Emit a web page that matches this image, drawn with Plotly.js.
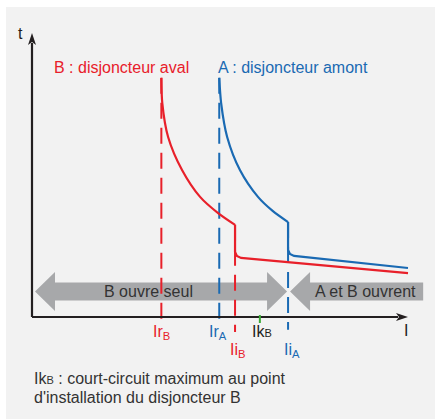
<!DOCTYPE html>
<html><head><meta charset="utf-8">
<script src="https://cdn.plot.ly/plotly-3.0.1.min.js"></script>
<style>html,body{margin:0;padding:0;background:#fff}</style>
</head><body><div id="chart" style="width:435px;height:419px"></div>
<script>
// ---- data (current I and time t, arbitrary units 0..100) ----
const thresholdLabels = ['Ir<sub>B</sub>', 'Ir<sub>A</sub>', 'Ii<sub>B</sub>', 'Ik<span style="font-size:11px">B</span>', 'Ii<sub>A</sub>'];
const thresholdValues = [34.4, 49.8, 54.0, 60.6, 68.1];

// breaker B (downstream): inverse-time part then instantaneous part
const curveB_I_long = [34.4, 34.65, 36.2, 39.9, 44.7, 49.5, 54.0];
const curveB_t_long = [85.4, 76.4, 64.3, 52.5, 42.9, 37.1, 32.9];
const curveB_I_inst = [54.0, 54.0, 54.5, 55.6, 100];
const curveB_t_inst = [32.9, 23.2, 21.8, 21.1, 15.7];
// breaker A (upstream)
const curveA_I_long = [49.8, 50.3, 51.9, 55.3, 60.1, 64.0, 68.1];
const curveA_t_long = [85.4, 76.4, 64.3, 52.5, 42.9, 37.9, 33.9];
const curveA_I_inst = [68.1, 68.1, 68.6, 69.7, 100];
const curveA_t_inst = [33.9, 23.9, 22.5, 21.8, 17.5];

const zoneLabels = ['B ouvre seul', 'A et B ouvrent'];
const zoneStart = [0, 68.1];
const zoneEnd = [68.1, 104.3];

const titleB = 'B : disjoncteur aval';
const titleA = 'A : disjoncteur amont';
const noteLines = ['Ik<span style="font-size:11px">B</span> : court-circuit maximum au point', "d'installation du disjoncteur B"];

// ---- style ----
const RED = '#e8202a', BLUE = '#1a6ab3', GREEN = '#3aaa35', GREY = '#a7a8aa', AX = '#231f20', TXT = '#333333';
const FONT = 'Liberation Sans, Arial, Helvetica, sans-serif';
const W = 435, H = 419;
const xr = [-8.511, 107.18], yr = [-36.43, 113.21];
const kx = W / (xr[1] - xr[0]), ky = H / (yr[1] - yr[0]); // px per unit
const px2dx = p => p / kx, px2dy = p => p / ky;

const traces = [];
function line(x, y, color, width, dash, shape) {
  traces.push({x, y, mode: 'lines', type: 'scatter', hoverinfo: 'skip',
    line: {color, width, dash: dash || 'solid', shape: shape || 'linear', smoothing: 0.8}});
}
function poly(x, y, color) {
  traces.push({x, y, mode: 'lines', type: 'scatter', fill: 'toself', fillcolor: color,
    line: {width: 0, color}, hoverinfo: 'skip'});
}

// zone arrows
const zc = px2dy(317 - 291.5);
const hl = px2dx(20), hh = px2dy(19.5), sh = px2dy(9);
zoneLabels.forEach((lab, i) => {
  const x0 = zoneStart[i] + px2dx(i === 0 ? 3 : 2);
  const x3 = zoneEnd[i] - px2dx(1);
  const x1 = x0 + hl, x2 = x3 - hl;
  if (i === 0) {
    poly([x0, x1, x1, x2, x2, x3, x2, x2, x1, x1, x0],
         [zc, zc + hh, zc + sh, zc + sh, zc + hh, zc, zc - hh, zc - sh, zc - sh, zc - hh, zc], GREY);
  } else {
    poly([x0, x1, x1, x3, x3, x1, x1, x0],
         [zc, zc + hh, zc + sh, zc + sh, zc - sh, zc - sh, zc - hh, zc], GREY);
  }
});

// dashed threshold lines
const dashTop = [curveB_t_long[0], curveA_t_long[0], curveB_t_long[6], null, curveA_t_long[6]];
const dashBot = [-1.0, -2.1, -5.4, null, -4.6];
const dashCol = [RED, BLUE, RED, GREEN, BLUE];
thresholdValues.forEach((v, i) => {
  if (dashTop[i] === null) return;
  line([v, v], [dashTop[i], dashBot[i]], dashCol[i], 2, '16px,9px');
});

// curves
line(curveB_I_long, curveB_t_long, RED, 2.2, 'solid', 'spline');
line(curveB_I_inst, curveB_t_inst, RED, 2.2);
line(curveA_I_long, curveA_t_long, BLUE, 2.2, 'solid', 'spline');
line(curveA_I_inst, curveA_t_inst, BLUE, 2.2);

// axes with arrow heads
const xEnd = 100, yEnd = px2dy(317 - 33);
const ahl = 12, ahw = 4;
line([0, xEnd - px2dx(ahl - 2)], [0, 0], AX, 2.2);
line([0, 0], [0, yEnd - px2dy(ahl - 2)], AX, 2.2);
poly([xEnd, xEnd - px2dx(ahl), xEnd - px2dx(ahl - 3), xEnd - px2dx(ahl), xEnd],
     [0, px2dy(ahw), 0, -px2dy(ahw), 0], AX);
poly([0, px2dx(ahw), 0, -px2dx(ahw), 0],
     [yEnd, yEnd - px2dy(ahl), yEnd - px2dy(ahl - 3), yEnd - px2dy(ahl), yEnd], AX);

// green Ik tick
line([thresholdValues[3], thresholdValues[3]], [px2dy(2), -px2dy(6)], GREEN, 2);

// ---- annotations ----
const ann = [];
function txt(x, y, text, color, opts) {
  ann.push(Object.assign({x, y, xref: 'x', yref: 'y', text, showarrow: false,
    font: {family: FONT, size: 16, color}, xanchor: 'center', yanchor: 'middle'}, opts || {}));
}
txt(23.8, 89.1, titleB, RED);
txt(69.5, 89.1, titleA, BLUE);
txt(-2.93, 101.3, 't', AX);
txt(99.5, -5.0, 'I', AX);
const labCol = [RED, BLUE, RED, AX, BLUE];
const labShiftX = [0, -1, 2.5, 2, 4];
const labShiftY = [-4, -4, -22, -4, -22];
thresholdValues.forEach((v, i) => {
  txt(v, 0, thresholdLabels[i], labCol[i], {yanchor: 'top', xshift: labShiftX[i], yshift: labShiftY[i]});
});
txt(31.0, zc, zoneLabels[0], TXT);
txt(88.8, zc, zoneLabels[1], TXT);
txt(0, -22.1, noteLines[0], TXT, {xanchor: 'left'});
txt(0, -28.6, noteLines[1], TXT, {xanchor: 'left'});

const layout = {
  width: W, height: H, margin: {l: 0, r: 0, t: 0, b: 0},
  paper_bgcolor: '#ffffff', plot_bgcolor: 'rgba(0,0,0,0)', showlegend: false,
  xaxis: {range: xr, visible: false, fixedrange: true},
  yaxis: {range: yr, visible: false, fixedrange: true},
  shapes: [{type: 'rect', xref: 'paper', yref: 'paper', x0: 6 / W, x1: 1, y0: 0, y1: (H - 7) / H,
    fillcolor: '#f2f2f2', line: {width: 0}, layer: 'below'}],
  annotations: ann
};
Plotly.newPlot('chart', traces, layout, {staticPlot: true, displayModeBar: false});
</script></body></html>
